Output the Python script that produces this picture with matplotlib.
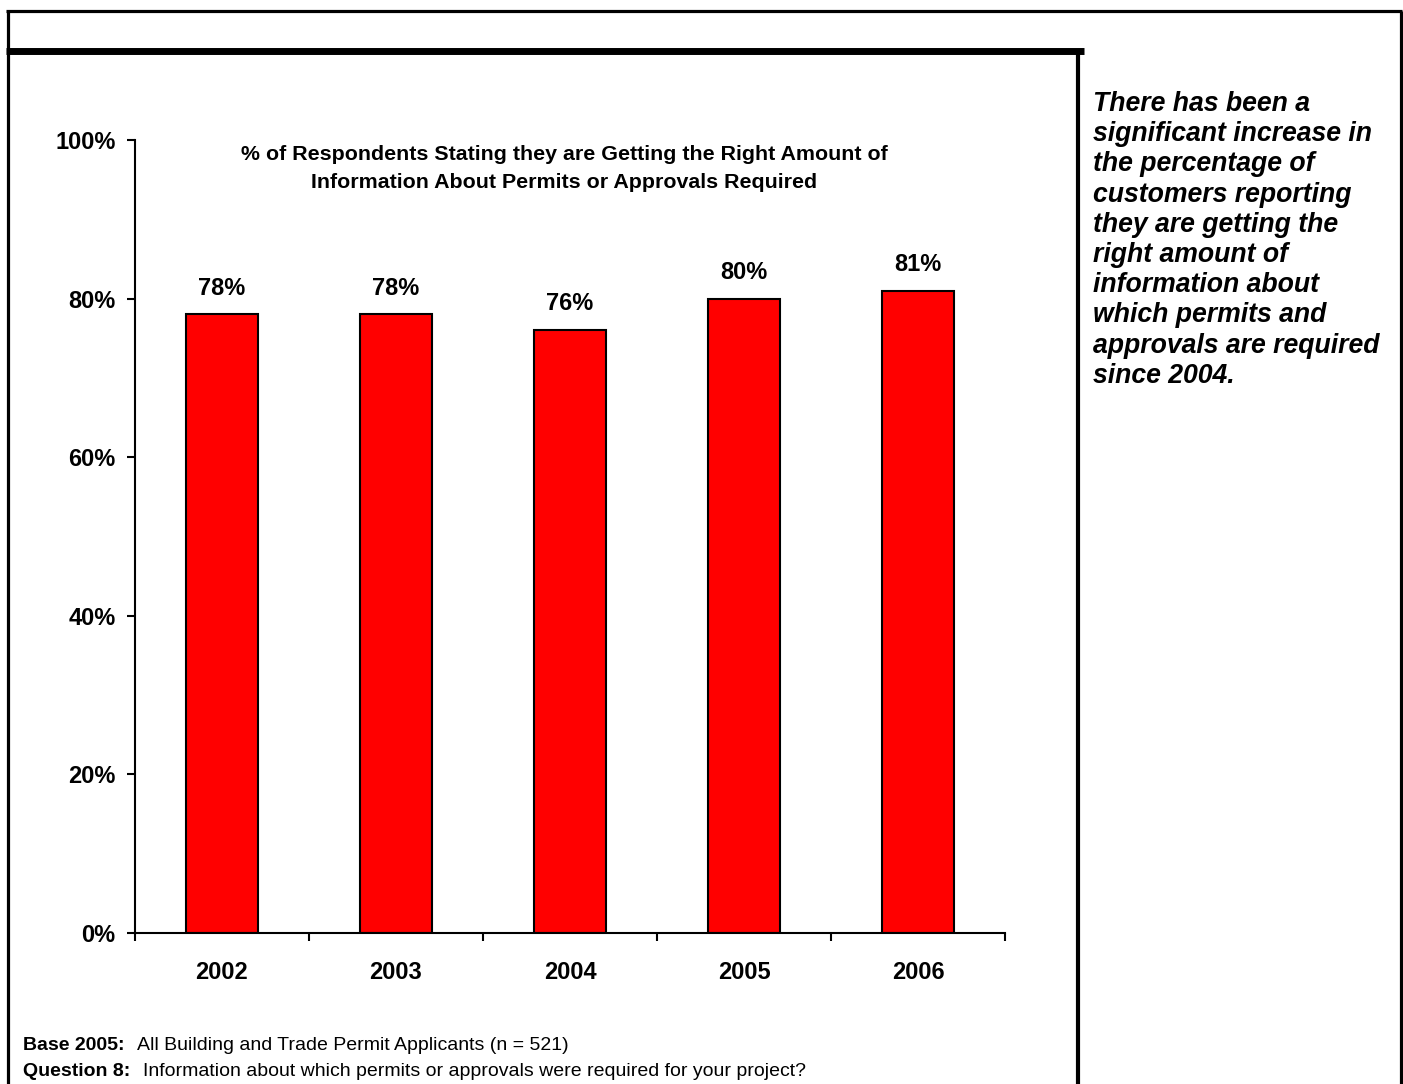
import matplotlib
matplotlib.use("Agg")
import matplotlib.pyplot as plt
from matplotlib.lines import Line2D

years = ["2002", "2003", "2004", "2005", "2006"]
values = [78, 78, 76, 80, 81]
y_ticks = [0, 20, 40, 60, 80, 100]

title_lines = ["% of Respondents Stating they are Getting the Right Amount of",
               "Information About Permits or Approvals Required"]
side_lines = ["There has been a", "significant increase in", "the percentage of",
              "customers reporting", "they are getting the", "right amount of",
              "information about", "which permits and", "approvals are required",
              "since 2004."]
notes = [("Base 2005:", "All Building and Trade Permit Applicants (n = 521)"),
         ("Question 8:", "Information about which permits or approvals were required for your project?")]

plt.rcParams['font.family'] = ['Liberation Sans', 'DejaVu Sans']

W, H = 1403, 1084
fig = plt.figure(figsize=(W / 100, H / 100), dpi=100)

def fx(px):
    return px / W

def fy(py):
    return 1 - py / H

# axes box in pixels: left 135, right 1005, top 140, bottom 933
ax = fig.add_axes([fx(135), fy(933), fx(1005) - fx(135), fy(140) - fy(933)])

pos = [i + 0.5 for i in range(len(years))]
ax.bar(pos, values, width=0.41, color="#ff0000", edgecolor="black", linewidth=1.5)
for x, v in zip(pos, values):
    ax.annotate(f"{v}%", (x, v), xytext=(0, 19), textcoords="offset points",
                ha="center", va="center", fontsize=17, fontweight="bold")

ax.set_xlim(0, len(years))
ax.set_ylim(0, 100)
ax.set_yticks(y_ticks)
ax.set_yticklabels([f"{t}%" for t in y_ticks], fontsize=17, fontweight="bold")
ax.set_xticks(range(len(years) + 1))
ax.set_xticklabels([])
ax.set_xticks(pos, minor=True)
ax.set_xticklabels(years, minor=True, fontsize=17, fontweight="bold")
ax.tick_params(axis="x", which="minor", length=0, pad=20)
ax.tick_params(axis="both", which="major", direction="out", length=6, width=1.5)
ax.tick_params(axis="y", pad=8)
for s in ["top", "right"]:
    ax.spines[s].set_visible(False)
for s in ["left", "bottom"]:
    ax.spines[s].set_linewidth(1.5)

for i, line in enumerate(title_lines):
    fig.text(fx(564), fy(155 + 27 * i), line, ha="center", va="center",
             fontsize=15.4, fontweight="bold")

for i, line in enumerate(side_lines):
    fig.text(fx(1093), fy(104 + 30.2 * i), line, ha="left", va="center",
             fontsize=19.2, fontweight="bold", style="italic")

# footnotes: bold label, then plain text just after it
for i, (label, text) in enumerate(notes):
    t = fig.text(fx(23), fy(1045 + 27 * i), label, ha="left", va="center",
                 fontsize=14, fontweight="bold")
    ax.annotate(text, xy=(1, 0.5), xycoords=t, xytext=(9, 0), textcoords="offset points",
                ha="left", va="center", fontsize=14, annotation_clip=False)

# frame lines
frame = [
    ([7.5, 7.5], [H, 11], 2.3),
    ([6, 1402], [11, 11], 2.3),
    ([1401, 1401], [11, H], 2.3),
    ([6, 1084], [50.5, 50.5], 5.0),
    ([1078, 1078], [50, H], 3.0),
]
for xs, ys, lw in frame:
    fig.add_artist(Line2D([fx(v) for v in xs], [fy(v) for v in ys], color="black",
                          linewidth=lw, solid_capstyle="butt", transform=fig.transFigure))

fig.savefig("out.png", dpi=100)
